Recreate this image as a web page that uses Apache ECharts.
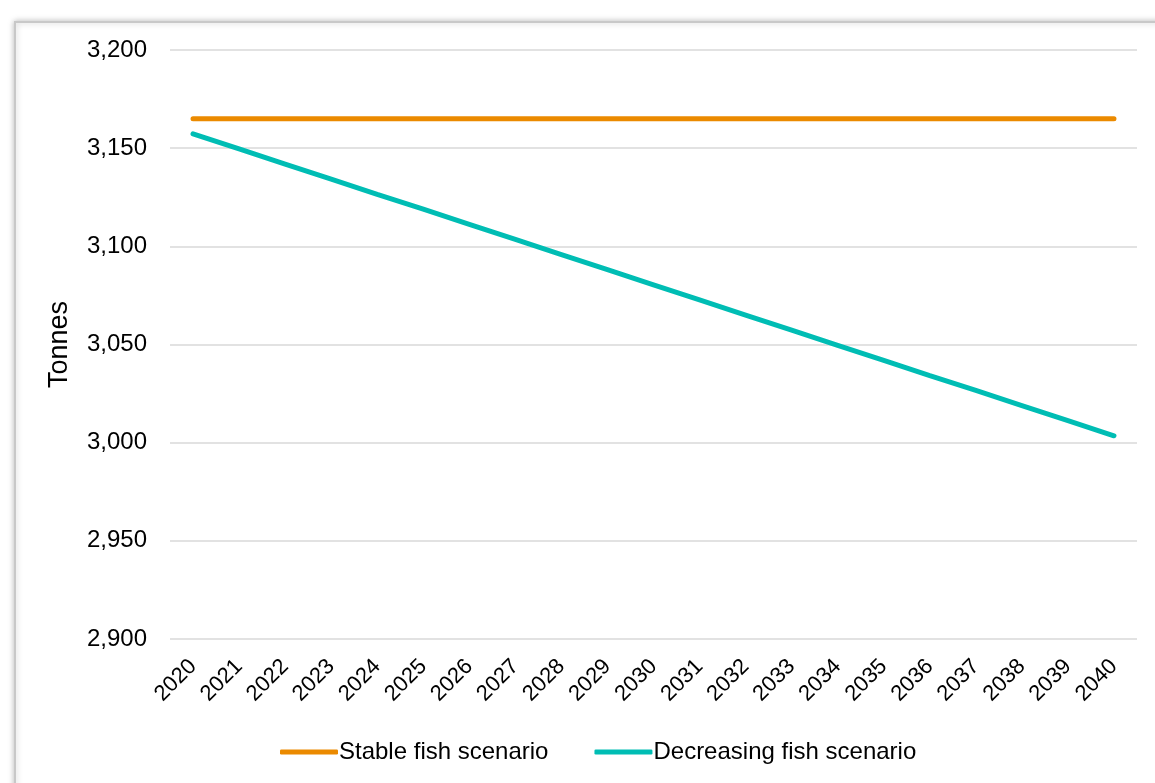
<!DOCTYPE html>
<html>
<head>
<meta charset="utf-8">
<script src="https://cdn.jsdelivr.net/npm/echarts@6/dist/echarts.min.js"></script>
<style>
html,body{margin:0;padding:0;background:#fff;}
#chart{width:1155px;height:783px;}
</style>
</head>
<body>
<div id="chart"></div>
<script>
const years = ['2020','2021','2022','2023','2024','2025','2026','2027','2028','2029','2030','2031','2032','2033','2034','2035','2036','2037','2038','2039','2040'];
const stableFish = [3165,3165,3165,3165,3165,3165,3165,3165,3165,3165,3165,3165,3165,3165,3165,3165,3165,3165,3165,3165,3165];
const decreasingFish = [3157.3,3149.6,3141.9,3134.2,3126.5,3118.9,3111.2,3103.5,3095.8,3088.1,3080.4,3072.7,3065.0,3057.3,3049.6,3041.9,3034.2,3026.6,3018.9,3011.2,3003.5];
const seriesNames = ['Stable fish scenario','Decreasing fish scenario'];
const yTitle = 'Tonnes';

const chart = echarts.init(document.getElementById('chart'));
const font = '"Liberation Sans", Arial, sans-serif';
chart.setOption({
  animation:false,
  graphic:[{
    type:'rect', left:14, top:21, z:-10, silent:true,
    shape:{width:1200, height:850},
    style:{fill:'#fff', stroke:'#c8c8c8', lineWidth:2, shadowBlur:6, shadowColor:'rgba(0,0,0,0.25)', shadowOffsetX:0, shadowOffsetY:0}
  }],
  grid:{left:170, right:18, top:50, bottom:144, containLabel:false},
  legend:{
    bottom:14, left:275, itemWidth:58, itemHeight:5, itemGap:46,
    icon:'roundRect',
    textStyle:{fontFamily:font, fontSize:24, color:'#000', padding:[0,0,0,-4]},
    data:seriesNames
  },
  xAxis:{
    type:'category', data:years, boundaryGap:true,
    axisLine:{show:false}, axisTick:{show:false},
    axisLabel:{rotate:45, fontFamily:font, fontSize:22, color:'#000', margin:24, interval:0}
  },
  yAxis:{
    type:'value', min:2900, max:3200, interval:50,
    name:yTitle, nameLocation:'middle', nameGap:97,
    nameTextStyle:{fontFamily:font, fontSize:27, color:'#000'},
    axisLabel:{fontFamily:font, fontSize:24, color:'#000', margin:23,
      formatter:v=>v.toLocaleString('en-US')},
    splitLine:{lineStyle:{color:'#d9d9d9', width:1.5}},
    axisLine:{show:false}, axisTick:{show:false}
  },
  series:[
    {name:seriesNames[0], type:'line', data:stableFish, showSymbol:false, symbol:'none',
     lineStyle:{color:'#EB8A00', width:5, cap:'round'}, itemStyle:{color:'#EB8A00'}},
    {name:seriesNames[1], type:'line', data:decreasingFish, showSymbol:false, symbol:'none',
     lineStyle:{color:'#00BDB4', width:5, cap:'round'}, itemStyle:{color:'#00BDB4'}}
  ]
});
</script>
</body>
</html>
